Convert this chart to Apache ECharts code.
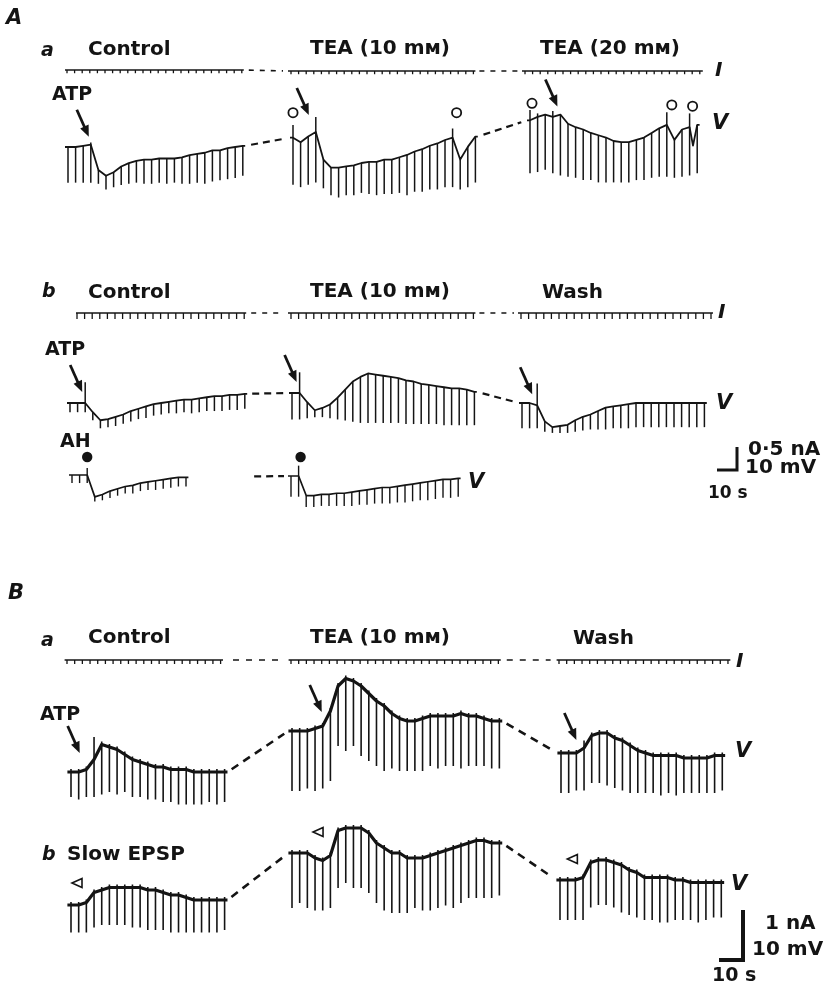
<!DOCTYPE html>
<html><head><meta charset="utf-8">
<script src="https://cdn.jsdelivr.net/npm/echarts@6/dist/echarts.min.js"></script>
<style>html,body{margin:0;padding:0;background:#fff}#c{width:831px;height:989px}</style>
</head><body><div id="c"></div>
<script>
// ================= DATA (mV relative to each trace's resting level; pulse index based) =================
const pulseIntervalA = 3.8;   // s between hyperpolarizing pulses, panel A
const pulseIntervalB = 3.2;   // s, panel B

// ---- A a : V traces ----
const aaCtrlTop = [0,0,0.5,1,-10,-12.5,-11,-8.5,-7,-6,-5.5,-5.5,-5,-5,-5,-4.5,-3.5,-3,-2.5,-1.5,-1.5,-0.5,0,0.5];
const aaCtrlBot = [-15.5,-15.5,-15.5,-15.5,-16,-18.5,-17.5,-16.5,-16,-15.5,-16,-16,-15.5,-16,-15.5,-16,-16,-15.5,-16,-15,-14.5,-14,-13.5,-12.5];
const aaCtrlSpk = [[3,2]];
const aaTea10Top = [1,-1,1.5,3.5,-8.5,-12,-12,-11.5,-11,-10,-9.5,-9.5,-8.5,-8.5,-7.5,-6.5,-5,-4,-2.5,-1.5,0,1,-8.5,-3,1.5];
const aaTea10Bot = [-19.5,-20.5,-19.5,-18.5,-21,-24,-25,-24,-24,-23,-23.5,-24,-23.5,-23.5,-23,-24,-22.5,-22.5,-21.5,-21.5,-20.5,-20.5,-21.5,-20.5,-18.5];
const aaTea10Spk = [[0,6.5],[3,10],[21,5]];
const aaTea20Top = [-1,0.5,1.5,0.5,1.5,-2.5,-4,-5,-6.5,-7.5,-8.5,-10,-10.5,-10.5,-9.5,-8.5,-6.5,-4.5,-3,-9.5,-5,-4,-3];
const aaTea20Bot = [-24,-23.5,-22.5,-24,-25,-25.5,-26,-27,-27,-28,-28,-28,-28,-28,-27,-27,-26,-25.5,-25.5,-26,-25.5,-25,-24];
const aaTea20Spk = [[0,3.5],[1,2],[3,3],[18,2.5],[21,2]];
const aaTea20Extra = [[81.5,-12]];
// ---- A b : V traces ----
const abCtrlTop = [0,0,0,-4,-7.5,-7,-6,-5,-3.5,-2.5,-1.5,-0.5,0,0.5,1,1.5,1.5,2,2.5,3,3,3.5,3.5,4];
const abCtrlBot = [-4,-4,-4,-7.5,-11,-10.5,-10,-9,-8,-7,-6.5,-5.5,-5,-4.5,-4.5,-4,-4.5,-4,-3.5,-3.5,-3.5,-3,-3,-2.5];
const abCtrlSpk = [[2,9]];
const abTea10Top = [0,0,-4,-7.5,-6.5,-5,-2,1.5,5,7,8.5,8,7.5,7,6.5,5.5,5,4,3.5,3,2.5,2,2,1.5,0.5];
const abTea10Bot = [-11.5,-11.5,-11,-10.5,-10.5,-11,-11.5,-12,-12.5,-13,-13,-13,-13,-13,-13,-13.5,-13.5,-13.5,-13.5,-13.5,-14,-14,-14,-14,-14];
const abTea10Spk = [[1,9]];
const abWashTop = [0,0,-1,-8,-10.5,-10,-9.5,-7.5,-6,-5,-3.5,-2,-1.5,-1,-0.5,0,0,0,0,0,0,0,0,0,0];
const abWashBot = [-11,-11,-11,-12.5,-13,-13,-13,-12.5,-12,-11.5,-11.5,-11.5,-11,-11,-11,-10.5,-10.5,-10.5,-10.5,-10.5,-10.5,-10.5,-10.5,-10.5,-10.5];
const abWashSpk = [[2,8.5]];
const ahCtrlTop = [0,0,0,-9.5,-8.5,-7,-6,-5,-4.5,-3.5,-3,-2.5,-2,-1.5,-1,-1];
const ahCtrlBot = [-3.5,-3.5,-3.5,-11.5,-11,-10,-9,-8,-8,-7,-6.5,-6.5,-6,-5.5,-5,-5];
const ahCtrlSpk = [[2,3]];
const ahTea10Top = [0,0,-8.5,-8.5,-8,-8,-7.5,-7.5,-7,-6.5,-6,-5.5,-5,-5,-4.5,-4,-3.5,-3,-2.5,-2,-1.5,-1.5,-1];
const ahTea10Bot = [-9,-9,-13.5,-13.5,-13,-13,-13,-13,-13,-12.5,-12.5,-12,-12,-12,-11.5,-11.5,-11,-10.5,-10.5,-10,-9.5,-9.5,-9];
const ahTea10Spk = [[1,4.5]];
// ---- B a : V traces ----
const baCtrlTop = [0,0,0.5,2.5,5.5,5,4.5,3.5,2.5,2,1.5,1,1,0.5,0.5,0.5,0,0,0,0,0];
const baCtrlBot = [-5,-5.5,-5,-5,-4.5,-4,-4.5,-4,-5,-5,-5.5,-5.5,-6,-6,-6.5,-6.5,-6.5,-6.5,-6,-6.5,-6];
const baCtrlSpk = [[3,7]];
const baTea10Top = [0,0,0,0.5,1,4,9,10.5,10,9,7.5,6,5,3.5,2.5,2,2,2.5,3,3,3,3,3.5,3,3,2.5,2,2];
const baTea10Bot = [-12,-12,-11.5,-12,-11.5,-10,-3,-4,-3,-5,-6,-7,-8,-7.5,-8,-8,-8,-8,-7,-7.5,-7,-7,-7.5,-7,-7,-7,-7.5,-7.5];
const baWashTop = [0,0,0,1,3.5,4,4,3,2.5,1.5,0.5,0,-0.5,-0.5,-0.5,-0.5,-1,-1,-1,-1,-0.5,-0.5];
const baWashBot = [-8,-8,-7.5,-7.5,-6,-6,-6.5,-7,-7.5,-8,-8,-8,-8,-8.5,-8,-8.5,-8,-8,-8,-8,-8,-7.5];
const baWashSpk = [[3,2.5]];
// ---- B b : slow EPSP V traces ----
const bbCtrlTop = [0,0,0.5,2.5,3,3.5,3.5,3.5,3.5,3.5,3,3,2.5,2,2,1.5,1,1,1,1,1];
const bbCtrlBot = [-5.5,-5.5,-5.5,-4.5,-4,-4,-4,-4,-4.5,-4.5,-5,-5,-5,-5.5,-5.5,-5.5,-5.5,-5.5,-5.5,-5.5,-5];
const bbTea10Top = [0,0,0,-1,-1.5,-0.5,4.5,5,5,5,4,2,1,0,0,-1,-1,-1,-0.5,0,0.5,1,1.5,2,2.5,2.5,2,2];
const bbTea10Bot = [-11,-10,-11,-11.5,-11.5,-11,-7,-6,-7,-7,-8,-10,-11.5,-12,-12,-12,-11,-11.5,-11.5,-11,-10.5,-11,-10,-9,-9,-9,-9,-8.5];
const bbWashTop = [0,0,0,0.5,3.5,4,4,3.5,3,2,1.5,0.5,0.5,0.5,0.5,0,0,-0.5,-0.5,-0.5,-0.5,-0.5];
const bbWashBot = [-8,-8,-8,-8,-5.5,-5,-5,-5.5,-6.5,-7,-7.5,-8,-8,-8.5,-8.5,-8,-8,-8,-8.5,-8,-7.5,-7.5];
// ---- current (I) pulse amplitudes, nA ----
const aaCtrlI  = [-0.07,-0.07,-0.07,-0.07,-0.07,-0.07,-0.07,-0.07,-0.07,-0.07,-0.07,-0.07,-0.07,-0.07,-0.07,-0.07,-0.07,-0.07,-0.07,-0.07,-0.07,-0.07,-0.07,-0.07];
const aaTea10I = [-0.07,-0.07,-0.07,-0.07,-0.07,-0.07,-0.07,-0.07,-0.07,-0.07,-0.07,-0.07,-0.07,-0.07,-0.07,-0.07,-0.07,-0.07,-0.07,-0.07,-0.07,-0.07,-0.07,-0.07,-0.07];
const aaTea20I = [-0.07,-0.07,-0.07,-0.07,-0.07,-0.07,-0.07,-0.07,-0.07,-0.07,-0.07,-0.07,-0.07,-0.07,-0.07,-0.07,-0.07,-0.07,-0.07,-0.07,-0.07,-0.07,-0.07,-0.07];
const abCtrlI  = [-0.13,-0.13,-0.13,-0.13,-0.13,-0.13,-0.13,-0.13,-0.13,-0.13,-0.13,-0.13,-0.13,-0.13,-0.13,-0.13,-0.13,-0.13,-0.13,-0.13,-0.13,-0.13,-0.13];
const abTea10I = [-0.13,-0.13,-0.13,-0.13,-0.13,-0.13,-0.13,-0.13,-0.13,-0.13,-0.13,-0.13,-0.13,-0.13,-0.13,-0.13,-0.13,-0.13,-0.13,-0.13,-0.13,-0.13,-0.13,-0.13,-0.13];
const abWashI  = [-0.13,-0.13,-0.13,-0.13,-0.13,-0.13,-0.13,-0.13,-0.13,-0.13,-0.13,-0.13,-0.13,-0.13,-0.13,-0.13,-0.13,-0.13,-0.13,-0.13,-0.13,-0.13,-0.13,-0.13,-0.13,-0.13];
const baCtrlI  = [-0.08,-0.08,-0.08,-0.08,-0.08,-0.08,-0.08,-0.08,-0.08,-0.08,-0.08,-0.08,-0.08,-0.08,-0.08,-0.08,-0.08,-0.08,-0.08,-0.08,-0.08];
const baTea10I = [-0.08,-0.08,-0.08,-0.08,-0.08,-0.08,-0.08,-0.08,-0.08,-0.08,-0.08,-0.08,-0.08,-0.08,-0.08,-0.08,-0.08,-0.08,-0.08,-0.08,-0.08,-0.08,-0.08,-0.08,-0.08,-0.08,-0.08,-0.08];
const baWashI  = [-0.08,-0.08,-0.08,-0.08,-0.08,-0.08,-0.08,-0.08,-0.08,-0.08,-0.08,-0.08,-0.08,-0.08,-0.08,-0.08,-0.08,-0.08,-0.08,-0.08,-0.08,-0.08,-0.08];
// scale bars
const scaleA = {s:10, mV:10, nA:0.5};
const scaleB = {s:10, mV:10, nA:1};
const tea10 = 'TEA (10 m\u1D0D)', tea20 = 'TEA (20 m\u1D0D)';

// ================= LAYOUT / STYLE =================
const INK = '#141414';
const FONT = '"DejaVu Sans", "Liberation Sans", sans-serif';
const SCALE = {
  A:{pxS:2.0, pxMV:2.3, pxNA:46, period:pulseIntervalA},
  B:{pxS:2.4, pxMV:5.0, pxNA:50, period:pulseIntervalB}
};
const grids=[], xAxes=[], yAxes=[], series=[];

function addGrid(panel, x0, y0, xmin, xmax, ymin, ymax, unitPx){
  const S = SCALE[panel]; const g = grids.length;
  grids.push({left:x0 + xmin*S.pxS, top:y0 - ymax*unitPx, width:(xmax-xmin)*S.pxS, height:(ymax-ymin)*unitPx, containLabel:false});
  xAxes.push({type:'value', gridIndex:g, min:xmin, max:xmax, show:false});
  yAxes.push({type:'value', gridIndex:g, min:ymin, max:ymax, show:false});
  return g;
}

function addV(tr){
  const S = SCALE[tr.panel], P = S.period, n = tr.top.length;
  const lead = tr.lead != null ? tr.lead : 1.5, tail = tr.tail != null ? tr.tail : 1.2;
  const xmin = -lead, xmax = (n-1)*P + tail;
  const spk = tr.spk || [], extra = tr.extra || [];
  const vals = tr.top.concat(tr.bot, spk.map(s=>s[1]), extra.map(e=>e[1]));
  const ymin = Math.floor(Math.min(...vals)) - 2, ymax = Math.ceil(Math.max(...vals)) + 2;
  const g = addGrid(tr.panel, tr.x, tr.y, xmin, xmax, ymin, ymax, S.pxMV);
  let pts = tr.top.map((v,i)=>[i*P, v]).concat(extra);
  pts.sort((a,b)=>a[0]-b[0]);
  pts = [[xmin, tr.top[0]]].concat(pts, [[xmax, tr.top[n-1]]]);
  tr.g = g; tr.start = pts[0]; tr.end = pts[pts.length-1];
  series.push({type:'line', xAxisIndex:g, yAxisIndex:g, data:pts, symbol:'none', silent:true, animation:false, clip:false,
    lineStyle:{color:INK, width:tr.lw, join:'round'}});
  const pd = tr.top.map((v,i)=>{ const s = spk.find(q=>q[0]===i); return [i*P, v, tr.bot[i], s ? s[1] : v, s ? 1 : 0]; });
  const tip = tr.tip || 0, pw = tr.pw;
  series.push({type:'custom', xAxisIndex:g, yAxisIndex:g, data:pd, silent:true, animation:false, clip:false,
    renderItem:(params, api)=>{
      const t = api.value(0), hs = api.value(4);
      const a = api.coord([t, hs ? Math.max(api.value(3), api.value(1)) : api.value(1)]);
      const b = api.coord([t, api.value(2)]);
      return {type:'line', shape:{x1:a[0], y1:a[1] - (hs ? 0 : tip), x2:b[0], y2:b[1]}, style:{stroke:INK, lineWidth:pw, lineCap:'butt'}};
    }});
  if (tr.marks && tr.marks.length){
    const md = tr.marks.map(m=>[m.i*P, tr.top[m.i], m.k, m.dx, m.dy]);
    series.push({type:'custom', xAxisIndex:g, yAxisIndex:g, data:md, silent:true, animation:false, clip:false, z:5,
      renderItem:(params, api)=>{
        const p = api.coord([api.value(0), api.value(1)]);
        const x = p[0] + api.value(3), y = p[1] + api.value(4), k = api.value(2);
        if (k === 0){ // arrow
          return {type:'group', children:[
            {type:'line', shape:{x1:x-12, y1:y-27, x2:x-4.2, y2:y-9.5}, style:{stroke:INK, lineWidth:2.8}},
            {type:'polygon', shape:{points:[[x,y],[x-8.6,y-8.2],[x-0.2,y-12.2]]}, style:{fill:INK}}
          ]};
        } else if (k === 1){
          return {type:'circle', shape:{cx:x, cy:y, r:4.6}, style:{fill:'#fff', stroke:INK, lineWidth:1.8}};
        } else if (k === 2){
          return {type:'circle', shape:{cx:x, cy:y, r:5.2}, style:{fill:INK}};
        } else {
          return {type:'polygon', shape:{points:[[x-5,y],[x+5,y-4.5],[x+5,y+4.5]]}, style:{fill:'#fff', stroke:INK, lineWidth:1.6}};
        }
      }});
  }
  return tr;
}

function addI(tr){
  const S = SCALE[tr.panel], P = S.period, n = tr.amp.length;
  const xmin = -tr.lead, xmax = (n-1)*P + tr.tail;
  const ymin = Math.min(...tr.amp)*1.6, ymax = 0.05;
  const g = addGrid(tr.panel, tr.x, tr.y, xmin, xmax, ymin, ymax, S.pxNA);
  tr.g = g; tr.start = [xmin, 0]; tr.end = [xmax, 0];
  series.push({type:'line', xAxisIndex:g, yAxisIndex:g, data:[[xmin,0],[xmax,0]], symbol:'none', silent:true, animation:false, clip:false,
    lineStyle:{color:INK, width:tr.lw}});
  series.push({type:'custom', xAxisIndex:g, yAxisIndex:g, data:tr.amp.map((a,i)=>[i*P, 0, a]), silent:true, animation:false, clip:false,
    renderItem:(params, api)=>{
      const a = api.coord([api.value(0), api.value(1)]), b = api.coord([api.value(0), api.value(2)]);
      return {type:'line', shape:{x1:a[0], y1:a[1], x2:b[0], y2:b[1]}, style:{stroke:INK, lineWidth:1.3}};
    }});
  return tr;
}

const A = 'A', B = 'B';
// V traces
const vAaC = addV({panel:A, x:68,  y:147, top:aaCtrlTop, bot:aaCtrlBot, spk:aaCtrlSpk, lw:1.8, pw:1.5, marks:[{i:3,k:0,dx:-2,dy:-8}]});
const vAaT = addV({panel:A, x:293, y:140, top:aaTea10Top, bot:aaTea10Bot, spk:aaTea10Spk, lw:1.8, pw:1.5, marks:[{i:3,k:0,dx:-7,dy:-17},{i:0,k:1,dx:0,dy:-25},{i:21,k:1,dx:4,dy:-25}]});
const vAaT2= addV({panel:A, x:530, y:118, top:aaTea20Top, bot:aaTea20Bot, spk:aaTea20Spk, extra:aaTea20Extra, lw:1.8, pw:1.5, marks:[{i:4,k:0,dx:-3,dy:-8},{i:0,k:1,dx:2,dy:-17},{i:18,k:1,dx:5,dy:-20},{i:21,k:1,dx:3,dy:-21}]});
const vAbC = addV({panel:A, x:70,  y:403, top:abCtrlTop, bot:abCtrlBot, spk:abCtrlSpk, lw:1.8, pw:1.5, marks:[{i:2,k:0,dx:-3,dy:-11}]});
const vAbT = addV({panel:A, x:292, y:393, top:abTea10Top, bot:abTea10Bot, spk:abTea10Spk, lw:1.8, pw:1.5, marks:[{i:1,k:0,dx:-3,dy:-11}]});
const vAbW = addV({panel:A, x:522, y:403, top:abWashTop, bot:abWashBot, spk:abWashSpk, lw:1.8, pw:1.5, marks:[{i:2,k:0,dx:-5,dy:-11}]});
const vAhC = addV({panel:A, x:72,  y:475, top:ahCtrlTop, bot:ahCtrlBot, spk:ahCtrlSpk, lw:1.7, pw:1.4, marks:[{i:2,k:2,dx:0,dy:-18}]});
const vAhT = addV({panel:A, x:291, y:476, top:ahTea10Top, bot:ahTea10Bot, spk:ahTea10Spk, lw:1.7, pw:1.4, marks:[{i:1,k:2,dx:2,dy:-19}]});
const vBaC = addV({panel:B, x:71,  y:772, top:baCtrlTop, bot:baCtrlBot, spk:baCtrlSpk, lw:3.2, pw:1.6, tip:3, marks:[{i:1,k:0,dx:1,dy:-19}]});
const vBaT = addV({panel:B, x:292, y:731, top:baTea10Top, bot:baTea10Bot, lw:3.2, pw:1.6, tip:3, marks:[{i:4,k:0,dx:-1,dy:-14}]});
const vBaW = addV({panel:B, x:561, y:753, top:baWashTop, bot:baWashBot, spk:baWashSpk, lw:3.2, pw:1.6, tip:3, marks:[{i:2,k:0,dx:0,dy:-13}]});
const vBbC = addV({panel:B, x:71,  y:905, top:bbCtrlTop, bot:bbCtrlBot, lw:3.2, pw:1.6, tip:3, marks:[{i:0,k:3,dx:6,dy:-22}]});
const vBbT = addV({panel:B, x:292, y:853, top:bbTea10Top, bot:bbTea10Bot, lw:3.2, pw:1.6, tip:3, marks:[{i:3,k:3,dx:3,dy:-26}]});
const vBbW = addV({panel:B, x:560, y:880, top:bbWashTop, bot:bbWashBot, lw:3.2, pw:1.6, tip:3, marks:[{i:2,k:3,dx:-3,dy:-21}]});
// I traces
const iAaC = addI({panel:A, x:67,  y:70,  amp:aaCtrlI,  lead:1, tail:1, lw:1.6});
const iAaT = addI({panel:A, x:291, y:71,  amp:aaTea10I, lead:1.5, tail:1, lw:1.6});
const iAaT2= addI({panel:A, x:525, y:71,  amp:aaTea20I, lead:1.5, tail:1.5, lw:1.6});
const iAbC = addI({panel:A, x:77,  y:313, amp:abCtrlI,  lead:0.5, tail:1, lw:1.6});
const iAbT = addI({panel:A, x:291, y:313, amp:abTea10I, lead:1.5, tail:1, lw:1.6});
const iAbW = addI({panel:A, x:521, y:313, amp:abWashI,  lead:1.5, tail:1, lw:1.6});
const iBaC = addI({panel:B, x:67,  y:660, amp:baCtrlI,  lead:1, tail:1, lw:1.7});
const iBaT = addI({panel:B, x:291, y:660, amp:baTea10I, lead:1, tail:1, lw:1.7});
const iBaW = addI({panel:B, x:559, y:660, amp:baWashI,  lead:1, tail:1, lw:1.7});

function T(x, y, s, size, italic){
  return {type:'text', x:x, y:y, silent:true, style:{text:s, font:(italic?'italic ':'') + 'bold ' + size + 'px ' + FONT, fill:INK,
    textVerticalAlign:'middle', verticalAlign:'middle', textAlign:'left', align:'left'}};
}
const labels = [
  T(6,19,'A',21,true), T(41,51,'a',19,true), T(88,50,'Control',20), T(310,49,tea10,20), T(540,49,tea20,20),
  T(715,71,'I',20,true), T(52,95,'ATP',19), T(712,124,'V',21,true),
  T(42,292,'b',19,true), T(88,293,'Control',20), T(310,292,tea10,20), T(542,293,'Wash',20), T(718,313,'I',20,true),
  T(45,350,'ATP',19), T(716,404,'V',21,true), T(60,442,'AH',19), T(468,483,'V',21,true),
  T(748,450,'0\u00B75 nA',20), T(745,468,'10 mV',20), T(708,494,'10 s',17),
  T(8,594,'B',21,true), T(41,641,'a',19,true), T(88,638,'Control',20), T(310,638,tea10,20), T(573,639,'Wash',20), T(736,662,'I',20,true),
  T(40,715,'ATP',19), T(735,752,'V',21,true),
  T(42,855,'b',19,true), T(67,855,'Slow EPSP',20), T(731,885,'V',21,true),
  T(765,924,'1 nA',20), T(752,950,'10 mV',20), T(712,976,'10 s',19)
];
function scaleBar(cx, cy, panel, sc, lw){
  const S = SCALE[panel];
  return {type:'polyline', silent:true, shape:{points:[[cx - sc.s*S.pxS, cy],[cx, cy],[cx, cy - sc.mV*S.pxMV]]}, style:{stroke:INK, lineWidth:lw, fill:null, lineJoin:'miter'}};
}

const chart = echarts.init(document.getElementById('c'), null, {renderer:'canvas'});
chart.setOption({animation:false, backgroundColor:'#fff', grid:grids, xAxis:xAxes, yAxis:yAxes, series:series});

function connector(a, b, shrink, lw, dash, frac){
  const p1 = chart.convertToPixel({gridIndex:a.g}, a.end);
  const p2 = chart.convertToPixel({gridIndex:b.g}, b.start);
  const dx = p2[0]-p1[0], dy = p2[1]-p1[1], L = Math.hypot(dx, dy);
  const ux = dx/L, uy = dy/L;
  const f = frac || 0;
  const s = [p1[0] + ux*(shrink + f*L), p1[1] + uy*(shrink + f*L)];
  const e = [p2[0] - ux*shrink, p2[1] - uy*shrink];
  return {type:'line', silent:true, shape:{x1:s[0], y1:s[1], x2:e[0], y2:e[1]}, style:{stroke:INK, lineWidth:lw, lineDash:dash}};
}
const conns = [
  connector(vAaC, vAaT, 6, 2.2, [7,5]), connector(vAaT, vAaT2, 6, 2.2, [7,5]),
  connector(vAbC, vAbT, 5, 2.2, [7,5]), connector(vAbT, vAbW, 6, 2.2, [7,5]),
  connector(vAhC, vAhT, 4, 2.2, [7,5], 0.62),
  connector(vBaC, vBaT, 5, 2.6, [8,6]), connector(vBaT, vBaW, 5, 2.6, [8,6]),
  connector(vBbC, vBbT, 5, 2.6, [8,6]), connector(vBbT, vBbW, 5, 2.6, [8,6]),
  connector(iAaC, iAaT, 5, 1.6, [5,6]), connector(iAaT, iAaT2, 4, 1.6, [5,6]),
  connector(iAbC, iAbT, 5, 1.6, [5,6]), connector(iAbT, iAbW, 4, 1.6, [5,6]),
  connector(iBaC, iBaT, 10, 1.7, [6,7]), connector(iBaT, iBaW, 6, 1.7, [6,7])
];
chart.setOption({graphic:{elements: labels.concat([scaleBar(737,470,'A',scaleA,3), scaleBar(743,960,'B',scaleB,4)], conns)}});
</script></body></html>
